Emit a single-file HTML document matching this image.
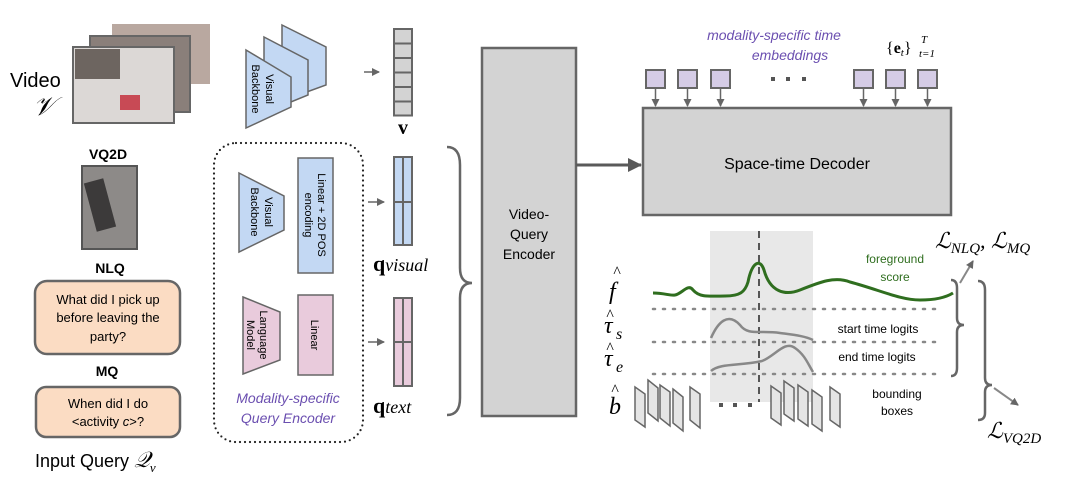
<!DOCTYPE html>
<html><head><meta charset="utf-8"><style>
html,body{margin:0;padding:0;background:#fff}
svg{display:block}
text{font-family:"Liberation Sans",sans-serif}
text.m,tspan.m{font-family:"Liberation Serif",serif;font-style:italic}
</style></head><body>
<svg width="1067" height="484" viewBox="0 0 1067 484" xmlns="http://www.w3.org/2000/svg">
<defs>
<marker id="a" markerWidth="8" markerHeight="8" refX="7" refY="4" orient="auto" markerUnits="userSpaceOnUse"><path d="M0,0 L8,4 L0,8 Z" fill="#666"/></marker>
<marker id="b" markerWidth="14" markerHeight="14" refX="13" refY="7" orient="auto" markerUnits="userSpaceOnUse"><path d="M0,0 L14,7 L0,14 Z" fill="#5a5a5a"/></marker>
</defs>
<text x="10" y="87" font-size="20">Video</text>
<text x="33" y="115" font-size="26" class="m">𝒱</text>
<rect x="112" y="24" width="98" height="60" fill="#b9a8a0"/>
<rect x="90" y="36" width="100" height="76" fill="#8a7f7a" stroke="#666" stroke-width="2"/>
<rect x="73" y="47" width="101" height="76" fill="#dcd8d6" stroke="#666" stroke-width="2"/>
<rect x="75" y="49" width="45" height="30" fill="#6d6560"/>
<rect x="120" y="95" width="20" height="15" fill="#c84a55"/>
<polygon points="282,25 326,47 326,85 282,101" fill="#c3d8f3" stroke="#666" stroke-width="1.5"/>
<polygon points="264,37 308,60 308,95 264,113" fill="#c3d8f3" stroke="#666" stroke-width="1.5"/>
<polygon points="246,50 291,77 291,107 246,128" fill="#c3d8f3" stroke="#666" stroke-width="1.5"/>
<text transform="translate(266,89) rotate(90)" font-size="11" text-anchor="middle">Visual</text>
<text transform="translate(252,89) rotate(90)" font-size="11" text-anchor="middle">Backbone</text>
<line x1="364" y1="72" x2="379" y2="72" stroke="#666" stroke-width="1.5" marker-end="url(#a)"/>
<g fill="#d3d3d3" stroke="#666" stroke-width="2">
<rect x="394" y="29" width="18" height="14.5"/><rect x="394" y="43.5" width="18" height="14.5"/><rect x="394" y="58" width="18" height="14.5"/><rect x="394" y="72.5" width="18" height="14.5"/><rect x="394" y="87" width="18" height="14.5"/><rect x="394" y="101.5" width="18" height="14"/>
</g>
<text x="403" y="134" font-size="20" font-weight="bold" text-anchor="middle" style="font-family:'Liberation Serif',serif">v</text>
<rect x="214" y="143" width="149" height="299" rx="22" fill="none" stroke="#222" stroke-width="2.2" stroke-dasharray="0 5" stroke-linecap="round"/>
<polygon points="239,173 284,196 284,230 239,252" fill="#c3d8f3" stroke="#666" stroke-width="1.5"/>
<text transform="translate(265,212) rotate(90)" font-size="11" text-anchor="middle">Visual</text>
<text transform="translate(251,212) rotate(90)" font-size="11" text-anchor="middle">Backbone</text>
<rect x="298" y="158" width="35" height="115" fill="#c3d8f3" stroke="#666" stroke-width="1.5"/>
<text transform="translate(318,215) rotate(90)" font-size="11" text-anchor="middle">Linear + 2D POS</text>
<text transform="translate(305,215) rotate(90)" font-size="11" text-anchor="middle">encoding</text>
<polygon points="243,297 280,312 280,360 243,374" fill="#e9cbdc" stroke="#666" stroke-width="1.5"/>
<text transform="translate(260,335) rotate(90)" font-size="11" text-anchor="middle">Language</text>
<text transform="translate(247,335) rotate(90)" font-size="11" text-anchor="middle">Model</text>
<rect x="298" y="295" width="35" height="80" fill="#e9cbdc" stroke="#666" stroke-width="1.5"/>
<text transform="translate(311,335) rotate(90)" font-size="11" text-anchor="middle">Linear</text>
<text x="288" y="403" font-size="14" font-style="italic" fill="#6b4fb0" text-anchor="middle">Modality-specific</text>
<text x="288" y="423" font-size="14" font-style="italic" fill="#6b4fb0" text-anchor="middle">Query Encoder</text>
<line x1="368" y1="202" x2="384" y2="202" stroke="#666" stroke-width="1.5" marker-end="url(#a)"/>
<line x1="368" y1="342" x2="384" y2="342" stroke="#666" stroke-width="1.5" marker-end="url(#a)"/>
<g stroke="#666" stroke-width="2">
<rect x="394" y="157" width="18" height="88" fill="#c3d8f3"/><line x1="403" y1="157" x2="403" y2="245"/><line x1="394" y1="202" x2="412" y2="202"/>
<rect x="394" y="298" width="18" height="88" fill="#e9cbdc"/><line x1="403" y1="298" x2="403" y2="386"/><line x1="394" y1="342" x2="412" y2="342"/>
</g>
<text x="373" y="271" font-size="22" font-weight="bold" style="font-family:'Liberation Serif',serif">q<tspan class="m" font-weight="normal" font-size="18">visual</tspan></text>
<text x="373" y="413" font-size="22" font-weight="bold" style="font-family:'Liberation Serif',serif">q<tspan class="m" font-weight="normal" font-size="18">text</tspan></text>
<path d="M447,147 Q460,147 460,165 L460,268 Q460,283 472,283 Q460,283 460,298 L460,398 Q460,415 447,415" fill="none" stroke="#666" stroke-width="2.5"/>
<rect x="482" y="48" width="94" height="368" fill="#d3d3d3" stroke="#666" stroke-width="2.5"/>
<text x="529" y="219" font-size="14" text-anchor="middle">Video-</text>
<text x="529" y="239" font-size="14" text-anchor="middle">Query</text>
<text x="529" y="259" font-size="14" text-anchor="middle">Encoder</text>
<line x1="576" y1="165" x2="641" y2="165" stroke="#5a5a5a" stroke-width="3" marker-end="url(#b)"/>
<rect x="643" y="108" width="308" height="107" fill="#d3d3d3" stroke="#666" stroke-width="2.5"/>
<text x="797" y="169" font-size="16" text-anchor="middle">Space-time Decoder</text>
<g fill="#d5cce6" stroke="#666" stroke-width="2">
<rect x="646" y="70" width="19" height="18"/><rect x="678" y="70" width="19" height="18"/><rect x="711" y="70" width="19" height="18"/><rect x="854" y="70" width="19" height="18"/><rect x="886" y="70" width="19" height="18"/><rect x="918" y="70" width="19" height="18"/>
</g>
<g stroke="#666" stroke-width="1.5" marker-end="url(#a)">
<line x1="655.5" y1="89" x2="655.5" y2="106"/><line x1="687.5" y1="89" x2="687.5" y2="106"/><line x1="720.5" y1="89" x2="720.5" y2="106"/><line x1="863.5" y1="89" x2="863.5" y2="106"/><line x1="895.5" y1="89" x2="895.5" y2="106"/><line x1="927.5" y1="89" x2="927.5" y2="106"/>
</g>
<g fill="#555"><rect x="771" y="77" width="4" height="4"/><rect x="786" y="77" width="4" height="4"/><rect x="802" y="77" width="4" height="4"/></g>
<text x="774" y="40" font-size="14" font-style="italic" fill="#6b4fb0" text-anchor="middle">modality-specific time</text>
<text x="790" y="60" font-size="14" font-style="italic" fill="#6b4fb0" text-anchor="middle">embeddings</text>
<text x="886" y="53" font-size="16" style="font-family:'Liberation Serif',serif">{<tspan font-weight="bold">e</tspan><tspan font-size="11" class="m" dy="3">t</tspan><tspan dy="-3">}</tspan></text>
<text x="921" y="43" font-size="11" class="m">T</text>
<text x="919" y="57" font-size="11" class="m">t=1</text>
<rect x="710" y="231" width="103" height="171" fill="#e8e8e8"/>
<line x1="759" y1="231" x2="759" y2="402" stroke="#555" stroke-width="2" stroke-dasharray="7 5"/>
<g fill="#555"><rect x="719" y="403" width="4" height="4"/><rect x="733" y="403" width="4" height="4"/><rect x="748" y="403" width="4" height="4"/></g>
<g stroke="#888" stroke-width="2.5" stroke-dasharray="2 8" stroke-linecap="round">
<line x1="653" y1="309" x2="937" y2="309"/><line x1="653" y1="342" x2="937" y2="342"/><line x1="653" y1="374" x2="937" y2="374"/>
</g>
<path d="M653,293 C665,293 670,296 675,295 C682,294 688,283 693,290 C700,298 710,296 725,296 C740,296 745,292 748,282 C752,262 760,258 764,270 C770,292 785,296 800,290 C820,282 835,276 850,282 C880,290 900,300 920,300 C935,300 945,298 953,293" fill="none" stroke="#2f6e1f" stroke-width="3"/>
<path d="M711,338 C718,322 728,312 740,325 C748,336 760,330 780,333 C795,335 805,336 813,340" fill="none" stroke="#888" stroke-width="2.5"/>
<path d="M711,371 C720,363 740,366 762,361 C775,356 785,340 795,348 C805,355 808,364 813,372" fill="none" stroke="#888" stroke-width="2.5"/>
<text x="895" y="263" font-size="12" fill="#2f6e1f" text-anchor="middle">foreground</text>
<text x="895" y="281" font-size="12" fill="#2f6e1f" text-anchor="middle">score</text>
<text x="878" y="333" font-size="12" text-anchor="middle">start time logits</text>
<text x="877" y="361" font-size="12" text-anchor="middle">end time logits</text>
<text x="897" y="398" font-size="12" text-anchor="middle">bounding</text>
<text x="897" y="415" font-size="12" text-anchor="middle">boxes</text>
<text class="m" x="609" y="299" font-size="24">f</text><text class="m" x="613" y="277" font-size="16" font-style="normal">^</text>
<text class="m" x="604" y="333" font-size="24">τ</text><text class="m" x="616" y="339" font-size="16">s</text><text class="m" x="606" y="320" font-size="16" font-style="normal">^</text>
<text class="m" x="604" y="366" font-size="24">τ</text><text class="m" x="616" y="372" font-size="16">e</text><text class="m" x="606" y="353" font-size="16" font-style="normal">^</text>
<text class="m" x="609" y="414" font-size="24">b</text><text class="m" x="611" y="395" font-size="16" font-style="normal">^</text>
<g fill="#e5e5e5" stroke="#666" stroke-width="1.5">
<polygon points="635,387 645,394 645,427 635,420"/><polygon points="648,380 658,388 658,421 648,413"/><polygon points="660,385 670,392 670,426 660,418"/><polygon points="673,389 683,397 683,431 673,423"/><polygon points="690,387 700,394 700,428 690,420"/>
<polygon points="771,386 781,393 781,425 771,418"/><polygon points="784,381 794,388 794,421 784,414"/><polygon points="798,385 808,392 808,426 798,419"/><polygon points="812,390 822,397 822,431 812,424"/><polygon points="830,387 840,394 840,427 830,420"/>
</g>
<path d="M951,280 Q957,280 957,288 L957,318 Q957,325 964,325 Q957,325 957,332 L957,368 Q957,376 951,376" fill="none" stroke="#666" stroke-width="2.5"/>
<path d="M978,281 Q985,281 985,290 L985,378 Q985,385 992,385 Q985,385 985,392 L985,413 Q985,420 978,420" fill="none" stroke="#666" stroke-width="2.5"/>
<line x1="960" y1="283" x2="973" y2="261" stroke="#888" stroke-width="2" marker-end="url(#a)"/>
<line x1="994" y1="388" x2="1018" y2="405" stroke="#888" stroke-width="2" marker-end="url(#a)"/>
<text x="935" y="248" font-size="22" class="m">ℒ<tspan font-size="15" dy="5">NLQ</tspan><tspan dy="-5">, ℒ</tspan><tspan font-size="15" dy="5">MQ</tspan></text>
<text x="987" y="438" font-size="22" class="m">ℒ<tspan font-size="15" dy="5">VQ2D</tspan></text>
<text x="108" y="159" font-size="14" font-weight="bold" text-anchor="middle">VQ2D</text>
<rect x="82" y="166" width="55" height="83" fill="#8d8a88" stroke="#555" stroke-width="2"/>
<rect x="90" y="180" width="20" height="50" fill="#3c3a3a" transform="rotate(-15 100 205)"/>
<text x="110" y="273" font-size="14" font-weight="bold" text-anchor="middle">NLQ</text>
<rect x="35" y="281" width="145" height="73" rx="12" fill="#fbdcc3" stroke="#666" stroke-width="2.5"/>
<text x="108" y="304" font-size="13" text-anchor="middle">What did I pick up</text>
<text x="108" y="322" font-size="13" text-anchor="middle">before leaving the</text>
<text x="108" y="341" font-size="13" text-anchor="middle">party?</text>
<text x="107" y="376" font-size="14" font-weight="bold" text-anchor="middle">MQ</text>
<rect x="36" y="387" width="144" height="50" rx="10" fill="#fbdcc3" stroke="#666" stroke-width="2.5"/>
<text x="108" y="408" font-size="13" text-anchor="middle">When did I do</text>
<text x="108" y="426" font-size="13" text-anchor="middle">&lt;activity <tspan font-style="italic">c</tspan>&gt;?</text>
<text x="35" y="467" font-size="18">Input Query <tspan class="m" font-size="22">𝒬</tspan><tspan class="m" font-size="13" dy="5">ν</tspan></text>
</svg>
</body></html>
